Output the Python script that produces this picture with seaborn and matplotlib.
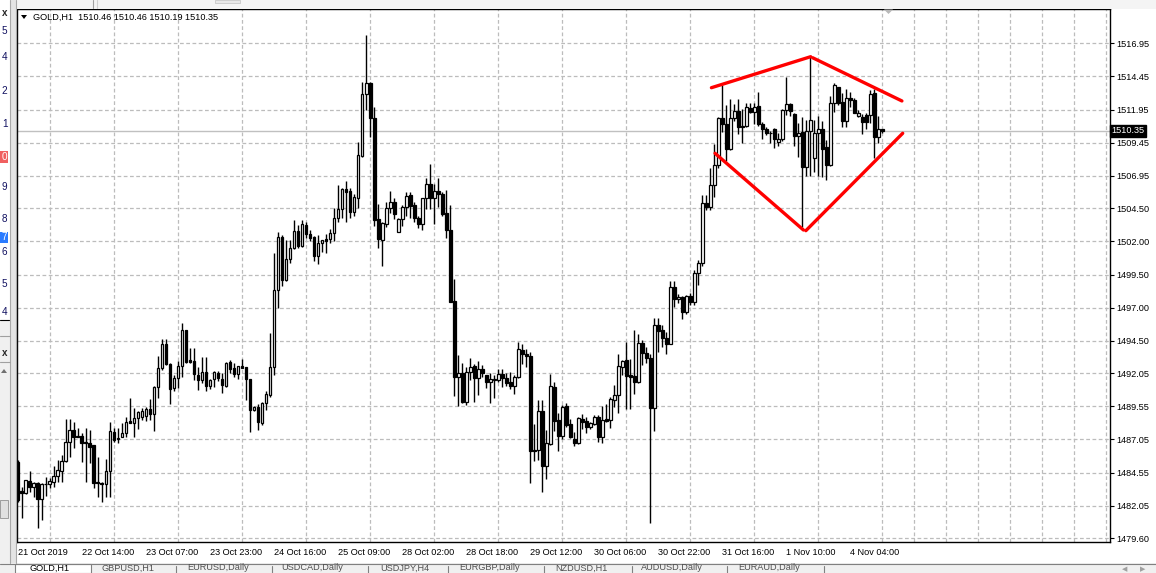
import numpy as np
import pandas as pd
import seaborn as sb
import matplotlib.pyplot as plt
from matplotlib.patches import Rectangle, Polygon
from matplotlib.lines import Line2D

# GOLD,H1 candles, bar 0 = first bar on the left
opens = [1485.38, 1483.19, 1482.99, 1483.92, 1483.44, 1483.77, 1482.58, 1483.67, 1483.67, 1483.84,
         1484.27, 1484.70, 1485.40, 1486.84, 1487.77, 1487.29, 1487.31, 1486.86, 1486.76, 1486.61,
         1483.82, 1483.77, 1483.67, 1484.65, 1487.59, 1487.06, 1487.26, 1487.52, 1488.42, 1488.32,
         1488.67, 1488.77, 1488.82, 1489.35, 1488.95, 1490.99, 1492.42, 1494.23, 1492.72, 1490.91,
         1491.67, 1492.57, 1495.32, 1493.05, 1493.00, 1491.89, 1491.52, 1492.15, 1491.06, 1491.59,
         1492.07, 1491.64, 1491.11, 1492.87, 1492.45, 1491.99, 1492.57, 1492.52, 1491.59, 1489.25,
         1489.53, 1488.27, 1489.77, 1490.40, 1492.49, 1498.33, 1502.33, 1499.08, 1500.64, 1501.47,
         1502.76, 1501.67, 1503.23, 1502.53, 1502.33, 1500.92, 1501.85, 1502.15, 1502.15, 1502.60,
         1503.74, 1504.42, 1505.93, 1505.80, 1504.24, 1505.30, 1508.47, 1513.10, 1513.93, 1511.29,
         1503.66, 1502.10, 1503.28, 1504.49, 1504.94, 1502.73, 1503.66, 1504.57, 1505.50, 1504.74,
         1503.79, 1503.28, 1505.25, 1506.30, 1505.25, 1505.80, 1505.55, 1504.11, 1502.83, 1497.50,
         1491.79, 1492.04, 1489.90, 1492.17, 1492.59, 1491.66, 1492.34, 1491.91, 1491.36, 1491.54,
         1491.54, 1491.97, 1491.66, 1491.39, 1491.11, 1491.74, 1493.80, 1493.48, 1493.37, 1486.25,
         1486.25, 1489.22, 1485.07, 1486.68, 1491.01, 1488.52, 1487.34, 1489.57, 1488.22, 1487.06,
         1486.81, 1488.62, 1488.47, 1488.02, 1488.22, 1488.72, 1487.26, 1488.57, 1488.52, 1490.00,
         1490.38, 1492.54, 1493.05, 1491.91, 1491.84, 1491.41, 1494.30, 1493.55, 1493.17, 1489.40,
         1495.66, 1495.31, 1494.68, 1494.23, 1498.53, 1497.63, 1497.83, 1496.70, 1497.88, 1497.45,
         1499.59, 1500.34, 1504.87, 1504.57, 1506.26, 1507.77, 1511.29, 1510.86, 1508.95, 1511.29,
         1511.87, 1510.71, 1510.71, 1512.04, 1511.79, 1512.22, 1510.86, 1510.46, 1510.21, 1510.46,
         1509.53, 1509.70, 1511.92, 1512.37, 1511.61, 1509.95, 1510.28, 1507.59, 1510.36, 1508.27,
         1510.21, 1510.46, 1509.10, 1507.77, 1512.47, 1513.63, 1512.55, 1511.09, 1512.80, 1512.67,
         1511.46, 1511.41, 1511.54, 1511.54, 1513.17, 1509.85, 1510.46]
highs = [1485.50, 1483.49, 1483.99, 1484.70, 1483.82, 1483.82, 1483.79, 1484.19, 1484.17, 1485.05,
         1485.50, 1485.88, 1488.60, 1488.60, 1488.40, 1487.89, 1487.57, 1487.89, 1487.77, 1486.61,
         1485.75, 1483.87, 1485.60, 1488.40, 1487.89, 1487.89, 1488.27, 1488.77, 1490.18, 1489.45,
         1489.20, 1489.45, 1489.53, 1490.11, 1491.09, 1493.35, 1494.64, 1494.64, 1492.80, 1491.92,
         1492.98, 1495.84, 1495.32, 1493.93, 1493.93, 1492.55, 1493.30, 1493.25, 1491.64, 1492.25,
         1492.22, 1492.04, 1492.90, 1493.05, 1492.80, 1492.57, 1493.13, 1492.55, 1491.59, 1489.58,
         1489.73, 1489.91, 1490.70, 1495.06, 1501.10, 1502.73, 1502.48, 1502.10, 1502.10, 1503.61,
         1503.23, 1503.61, 1503.49, 1502.86, 1502.43, 1502.48, 1502.10, 1502.53, 1502.93, 1504.54,
         1506.25, 1506.05, 1506.56, 1506.00, 1505.55, 1509.47, 1514.00, 1517.58, 1514.00, 1512.17,
         1504.79, 1503.44, 1505.00, 1505.80, 1505.25, 1503.79, 1504.74, 1505.70, 1505.70, 1504.94,
         1503.94, 1505.30, 1506.76, 1507.81, 1506.30, 1506.76, 1505.75, 1505.88, 1504.74, 1499.16,
         1493.42, 1492.79, 1492.54, 1493.22, 1492.72, 1492.97, 1492.67, 1491.91, 1492.04, 1491.91,
         1492.34, 1492.34, 1492.04, 1492.17, 1491.91, 1494.41, 1494.23, 1493.85, 1493.68, 1488.22,
         1490.03, 1490.03, 1487.76, 1491.99, 1491.36, 1489.02, 1489.65, 1489.82, 1488.57, 1487.64,
         1488.77, 1488.97, 1488.72, 1488.39, 1488.89, 1488.89, 1489.57, 1489.73, 1490.23, 1491.16,
         1493.50, 1493.05, 1494.43, 1493.10, 1495.31, 1495.01, 1494.56, 1494.00, 1493.50, 1496.19,
         1496.19, 1495.69, 1495.19, 1499.04, 1499.04, 1498.00, 1497.88, 1497.95, 1498.08, 1499.84,
         1500.60, 1505.50, 1505.50, 1507.51, 1509.35, 1511.36, 1513.80, 1512.29, 1512.72, 1512.37,
         1512.72, 1511.97, 1512.47, 1512.47, 1512.42, 1513.30, 1511.04, 1510.61, 1510.36, 1510.53,
         1510.21, 1511.97, 1514.38, 1512.42, 1511.66, 1510.96, 1511.36, 1511.16, 1515.94, 1511.16,
         1511.46, 1511.11, 1509.65, 1512.97, 1513.93, 1513.68, 1513.22, 1513.48, 1513.30, 1512.80,
         1511.92, 1511.61, 1511.66, 1513.43, 1513.48, 1511.46, 1510.46]
lows = [1482.36, 1481.10, 1482.94, 1483.11, 1482.74, 1480.40, 1480.97, 1482.79, 1483.36, 1483.49,
        1483.87, 1483.87, 1485.33, 1485.70, 1486.38, 1487.24, 1485.38, 1483.87, 1485.25, 1483.36,
        1482.74, 1482.31, 1482.74, 1482.74, 1486.89, 1486.76, 1487.26, 1487.26, 1488.27, 1487.26,
        1487.84, 1488.52, 1488.47, 1488.52, 1487.72, 1490.16, 1492.30, 1492.67, 1489.70, 1490.74,
        1490.91, 1491.79, 1492.80, 1492.80, 1491.54, 1490.79, 1491.29, 1490.71, 1490.84, 1491.04,
        1491.49, 1490.53, 1491.04, 1492.04, 1491.74, 1491.62, 1492.42, 1490.03, 1487.59, 1489.23,
        1487.77, 1488.14, 1489.27, 1490.28, 1491.91, 1497.00, 1498.63, 1499.03, 1500.34, 1501.40,
        1501.47, 1501.60, 1502.23, 1502.03, 1500.54, 1500.32, 1501.22, 1501.15, 1501.85, 1502.03,
        1503.44, 1503.79, 1503.44, 1503.79, 1503.94, 1504.49, 1508.39, 1511.91, 1509.90, 1503.16,
        1501.52, 1500.17, 1503.11, 1504.11, 1503.69, 1502.68, 1503.18, 1503.94, 1503.79, 1503.49,
        1503.03, 1502.83, 1504.44, 1504.44, 1503.31, 1504.62, 1503.94, 1502.28, 1497.40, 1490.35,
        1489.60, 1489.77, 1489.65, 1491.54, 1489.85, 1490.40, 1491.79, 1490.96, 1489.78, 1490.15,
        1491.41, 1491.03, 1491.09, 1490.83, 1490.46, 1491.66, 1492.75, 1492.54, 1483.79, 1485.42,
        1485.50, 1483.11, 1484.07, 1486.61, 1487.71, 1486.20, 1487.09, 1488.02, 1487.13, 1486.58,
        1486.71, 1487.81, 1487.51, 1487.84, 1488.14, 1486.88, 1486.81, 1488.34, 1487.94, 1489.52,
        1489.02, 1491.91, 1489.32, 1489.32, 1490.48, 1491.34, 1492.67, 1492.80, 1480.72, 1487.71,
        1493.68, 1494.00, 1493.50, 1494.23, 1497.07, 1497.32, 1496.12, 1496.52, 1497.20, 1497.20,
        1498.71, 1500.14, 1504.37, 1504.37, 1505.37, 1507.51, 1510.28, 1508.09, 1508.90, 1511.11,
        1510.10, 1509.45, 1510.61, 1511.71, 1510.86, 1510.71, 1509.70, 1510.03, 1509.45, 1509.02,
        1509.20, 1509.60, 1511.54, 1511.46, 1509.20, 1508.34, 1503.06, 1506.93, 1506.93, 1507.26,
        1506.93, 1506.83, 1506.63, 1507.69, 1511.79, 1512.29, 1510.61, 1510.61, 1512.17, 1511.66,
        1511.36, 1510.10, 1510.46, 1510.91, 1508.27, 1509.45, 1510.19]
closes = [1482.49, 1482.99, 1483.97, 1483.44, 1483.77, 1482.58, 1483.72, 1483.72, 1483.92, 1484.30,
          1484.72, 1485.40, 1486.84, 1487.77, 1487.26, 1487.26, 1486.81, 1486.76, 1486.51, 1483.79,
          1483.74, 1483.67, 1484.65, 1487.67, 1487.04, 1487.19, 1487.54, 1488.37, 1488.32, 1488.67,
          1489.13, 1489.18, 1489.33, 1488.95, 1490.99, 1492.42, 1494.23, 1492.72, 1490.84, 1491.67,
          1492.57, 1495.32, 1492.93, 1492.90, 1491.97, 1491.54, 1492.15, 1491.09, 1491.52, 1492.15,
          1491.67, 1491.16, 1492.82, 1492.40, 1491.99, 1492.57, 1492.47, 1491.59, 1489.25, 1489.50,
          1488.35, 1489.78, 1490.45, 1492.49, 1498.33, 1502.33, 1499.08, 1500.64, 1501.47, 1502.76,
          1501.67, 1503.28, 1502.53, 1502.28, 1500.92, 1501.85, 1502.08, 1502.03, 1502.60, 1503.74,
          1504.42, 1505.93, 1505.75, 1504.24, 1505.35, 1508.52, 1513.10, 1513.93, 1511.29, 1503.61,
          1502.15, 1503.36, 1504.49, 1504.94, 1504.04, 1503.69, 1504.57, 1505.45, 1504.69, 1503.74,
          1503.28, 1505.25, 1506.30, 1505.25, 1505.80, 1505.55, 1504.09, 1502.86, 1497.45, 1491.79,
          1492.04, 1489.90, 1492.17, 1492.54, 1491.66, 1492.34, 1492.04, 1491.36, 1491.61, 1491.61,
          1491.97, 1491.66, 1491.34, 1491.11, 1491.74, 1493.85, 1493.48, 1493.37, 1486.20, 1486.20,
          1489.22, 1485.07, 1486.76, 1491.09, 1488.47, 1487.34, 1489.50, 1488.14, 1487.26, 1486.81,
          1488.70, 1488.39, 1488.02, 1488.32, 1488.72, 1487.26, 1488.52, 1488.44, 1490.08, 1490.38,
          1492.59, 1492.97, 1491.87, 1491.74, 1491.41, 1494.30, 1493.55, 1493.17, 1489.40, 1495.66,
          1495.26, 1494.73, 1494.23, 1498.53, 1497.63, 1497.83, 1496.70, 1497.88, 1497.45, 1499.59,
          1500.34, 1504.87, 1504.57, 1506.26, 1507.77, 1511.29, 1510.86, 1508.95, 1511.29, 1511.87,
          1510.61, 1510.61, 1512.12, 1511.79, 1512.17, 1510.86, 1510.46, 1510.16, 1510.16, 1509.70,
          1509.70, 1511.92, 1512.37, 1511.87, 1509.95, 1510.16, 1507.59, 1510.36, 1511.16, 1510.21,
          1510.46, 1508.95, 1507.77, 1512.47, 1513.80, 1512.47, 1511.09, 1512.80, 1512.67, 1511.72,
          1511.72, 1511.04, 1511.04, 1513.12, 1509.85, 1510.46, 1510.35]

price_ticks = [1479.60, 1482.05, 1484.55, 1487.05, 1489.55, 1492.05, 1494.50, 1497.00,
               1499.50, 1502.00, 1504.50, 1506.95, 1509.45, 1511.95, 1514.45, 1516.95]
time_labels = ["21 Oct 2019", "22 Oct 14:00", "23 Oct 07:00", "23 Oct 23:00", "24 Oct 16:00",
               "25 Oct 09:00", "28 Oct 02:00", "28 Oct 18:00", "29 Oct 12:00", "30 Oct 06:00",
               "30 Oct 22:00", "31 Oct 16:00", "1 Nov 10:00", "4 Nov 04:00"]
last_price = 1510.35

# red diamond drawn on the chart: (bar, price) end points
diamond_bars = [[173.3, 198.1], [198.6, 220.9], [174.2, 196.3], [196.9, 221.1]]
diamond_prices = [[1513.60, 1515.94], [1515.86, 1512.60], [1508.65, 1502.86], [1502.81, 1510.16]]

tab_names = ["GOLD,H1", "GBPUSD,H1", "EURUSD,Daily", "USDCAD,Daily", "USDJPY,H4",
             "EURGBP,Daily", "NZDUSD,H1", "AUDUSD,Daily", "EURAUD,Daily"]
watch_digits = ["5", "4", "2", "1", "0", "9", "8", "7", "6", "5", "4"]

df = pd.DataFrame({"open": opens, "high": highs, "low": lows, "close": closes})
df["bar"] = np.arange(len(df))
df["up"] = df["close"] >= df["open"]

sb.set_style("white")
plt.rcParams["font.family"] = ["Liberation Sans", "DejaVu Sans"]
FS = 6.6
W, H = 1156, 573

fig = plt.figure(figsize=(W / 100, H / 100), dpi=100)
fig.patch.set_facecolor("white")


def box(x0, y0, x1, y1, **kw):
    # rectangle in screen pixels (origin top-left)
    fig.add_artist(Rectangle((x0 / W, 1 - y1 / H), (x1 - x0) / W, (y1 - y0) / H,
                             transform=fig.transFigure, **kw))


def seg(x0, y0, x1, y1, **kw):
    fig.add_artist(Line2D([x0 / W, x1 / W], [1 - y0 / H, 1 - y1 / H],
                          transform=fig.transFigure, **kw))


ax = fig.add_axes([16.5 / W, 31.5 / H, 1093.5 / W, 532.5 / H])
ax.set_facecolor("white")

# grid
ax.set_xticks(np.arange(0, 273, 8), minor=True)
ax.grid(True, which="minor", axis="x", color="#bcbcbc", lw=0.9, ls=(0, (3, 2)))
ax.grid(True, which="major", axis="y", color="#bcbcbc", lw=0.9, ls=(0, (3, 2)))
ax.set_axisbelow(True)

ax.axhline(last_price, color="#c0c0c0", lw=1.0, zorder=1)

# candles
ax.vlines(df["bar"], df["low"], df["high"], color="black", lw=1.0, zorder=3)
ax.bar(df["bar"], df["close"] - df["open"], bottom=df["open"], width=0.72,
       color=np.where(df["up"], "white", "black"), edgecolor="black", linewidth=0.9, zorder=4)

# diamond pattern
for bx, py in zip(diamond_bars, diamond_prices):
    sb.lineplot(x=bx, y=py, ax=ax, color="#ff0000", lw=2.4, zorder=5, sort=False)

ax.set_xlim(-0.35, 272.9)
ax.set_ylim(1479.35, 1519.54)

ax.set_xticks(np.arange(len(time_labels)) * 16)
ax.set_xticklabels(time_labels, ha="left")
ax.yaxis.tick_right()
ax.set_yticks(price_ticks)
ax.set_yticklabels([f"{p:.2f}" for p in price_ticks])
ax.tick_params(axis="both", which="major", labelsize=FS, length=3, width=0.8,
               color="black", pad=1.5, direction="out", labelcolor="black")
ax.tick_params(axis="x", which="minor", length=0)
ax.tick_params(axis="x", which="major", pad=2)
ax.set_xlabel("")
ax.set_ylabel("")
for s in ax.spines.values():
    s.set_color("black")
    s.set_linewidth(1.0)

# current price tag
ax.text(1.0015, last_price, f"{last_price:.2f}", transform=ax.get_yaxis_transform(),
        ha="left", va="center", fontsize=FS, color="white", zorder=6, clip_on=False,
        bbox=dict(boxstyle="square,pad=0.18", fc="black", ec="black"))

# chart title
fig.text(33 / W, 1 - 17 / H, "GOLD,H1  1510.46 1510.46 1510.19 1510.35",
         fontsize=FS, va="center", ha="left", color="black")
fig.add_artist(Polygon([[21 / W, 1 - 15 / H], [27 / W, 1 - 15 / H], [24 / W, 1 - 19 / H]],
                       closed=True, transform=fig.transFigure, fc="black", ec="none"))
# chart shift marker
fig.add_artist(Polygon([[884 / W, 1 - 9.5 / H], [893 / W, 1 - 9.5 / H], [888.5 / W, 1 - 14 / H]],
                       closed=True, transform=fig.transFigure, fc="#b8b8b8", ec="none"))

# window chrome: top strip
box(0, 0, W, 8.5, fc="#f4f4f4", ec="none")
seg(93, 0, 93, 8, color="#a0a0a0", lw=0.8)
seg(97, 0, 97, 8, color="#d0d0d0", lw=0.8)
box(215, 0, 240, 3, fc="#e8e8e8", ec="#c8c8c8", lw=0.6)

# left panel (market watch / navigator fragments)
box(0, 0, 9.5, 320, fc="white", ec="none")
box(0, 320, 9.5, 563, fc="#f0f0f0", ec="none")
box(9.5, 0, 16, 563, fc="#e4e4e4", ec="none")
seg(10, 0, 10, 563, color="#a8a8a8", lw=0.8)
seg(15.5, 0, 15.5, 563, color="#a8a8a8", lw=0.8)
seg(0, 319.5, 9, 319.5, color="black", lw=0.8)
seg(0, 336, 9.5, 336, color="#a0a0a0", lw=0.8)
seg(0, 362, 9.5, 362, color="#a0a0a0", lw=0.8)
fig.text(2 / W, 1 - 13 / H, "x", fontsize=FS + 0.5, fontweight="bold", va="center", ha="left")
fig.text(2 / W, 1 - 353 / H, "x", fontsize=FS + 0.5, fontweight="bold", va="center", ha="left")
fig.add_artist(Polygon([[1 / W, 1 - 373 / H], [7 / W, 1 - 373 / H], [4 / W, 1 - 369 / H]],
                       closed=True, transform=fig.transFigure, fc="#707070", ec="none"))
box(0, 500, 7.5, 518, fc="#e0e0e0", ec="#909090", lw=0.6)
watch_y = [31, 57, 91, 124, 157, 187, 219, 237, 252, 284, 312]
for d, yy in zip(watch_digits, watch_y):
    col = "#101060"
    if yy == 157:
        box(0, 151.5, 8, 163, fc="#f06060", ec="none")
        col = "white"
    if yy == 237:
        box(0, 232, 8, 243, fc="#2a7bff", ec="none")
        col = "white"
    fig.text(7.5 / W, 1 - yy / H, d, fontsize=FS + 0.6, va="center", ha="right", color=col)

# bottom tab bar
box(0, 563, W, H, fc="#f0f0f0", ec="none")
seg(0, 563.5, W, 563.5, color="#808080", lw=0.8)
box(15, 564, 91, H, fc="white", ec="#808080", lw=0.8)
tab_x = [30, 102, 187, 281, 380, 459, 555, 641, 738]
tab_sep = [176, 272, 368, 448, 544, 632, 727, 824]
for name, xx in zip(tab_names, tab_x):
    fig.text(xx / W, 1 - 572.5 / H, name, fontsize=FS, va="bottom", ha="left",
             color="black" if name == "GOLD,H1" else "#505050")
for xx in tab_sep:
    seg(xx, 566, xx, H, color="#808080", lw=0.8)
fig.text(1125 / W, 1 - 569 / H, "◀", fontsize=5, color="#a0a0a0", va="center", ha="center",
         family="DejaVu Sans")
fig.text(1143 / W, 1 - 569 / H, "▶", fontsize=5, color="#a0a0a0", va="center", ha="center",
         family="DejaVu Sans")

fig.savefig("out.png", dpi=100, facecolor=fig.get_facecolor())
